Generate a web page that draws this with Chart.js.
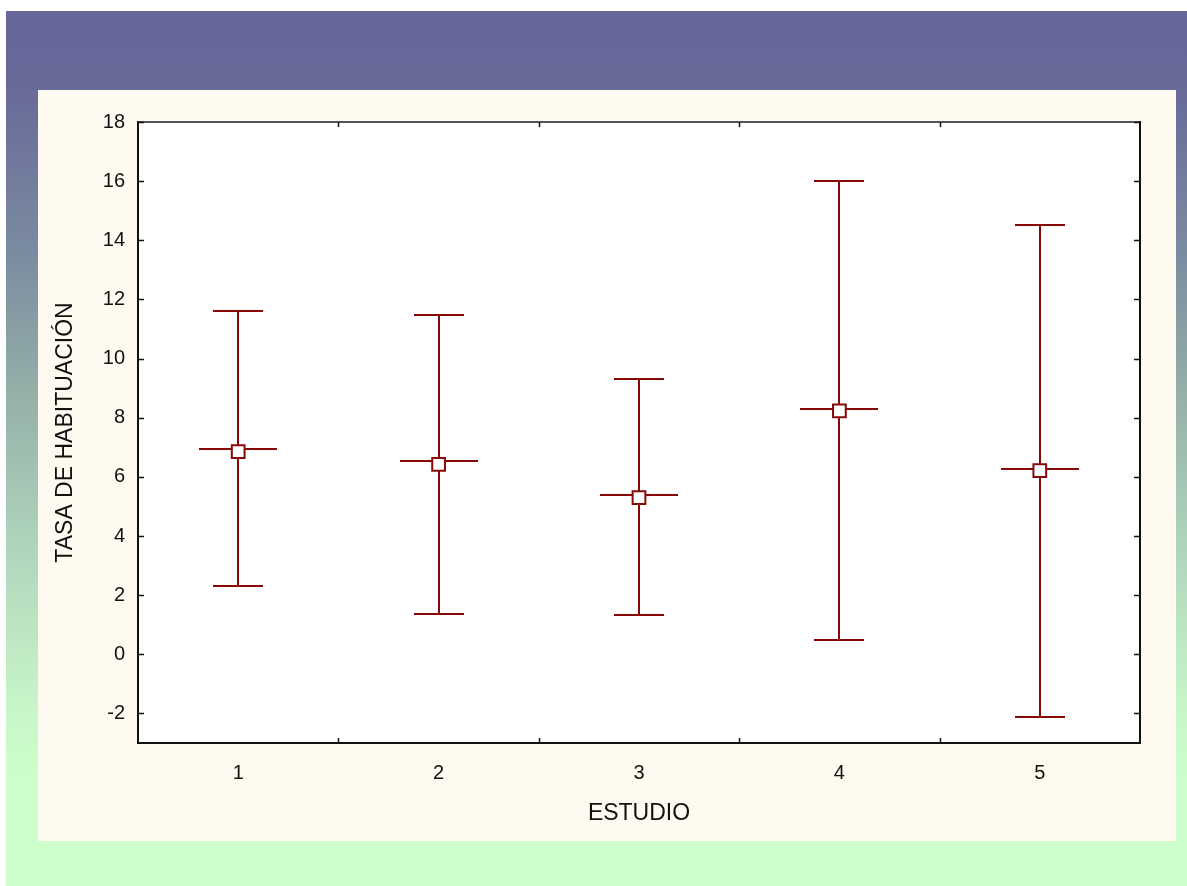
<!DOCTYPE html>
<html>
<head>
<meta charset="utf-8">
<script src="https://cdn.jsdelivr.net/npm/chart.js@4/dist/chart.umd.min.js"></script>
<style>
	html, body { margin: 0; padding: 0; background: #ffffff; }
	#bg {
		position: absolute; left: 6px; top: 11px; width: 1181px; height: 875px;
		background: linear-gradient(to bottom, #666699 0%, #686a99 9%, #7b8ca0 28%, #94aea8 43%, #b2d8bd 63%, #c8f6c9 80%, #ccffcc 88%, #ccffcc 100%);
	}
	#panel {
		position: absolute; left: 38px; top: 90px; width: 1138px; height: 751px;
		background: #fffaef;
	}
	#panel canvas { display: block; }
</style>
</head>
<body>
<div id="bg"></div>
<div id="panel"><canvas id="chart" width="1138" height="751"></canvas></div>
<script>
// studies on the x axis
const estudios = [ 1, 2, 3, 4, 5 ];
// mean (square marker)
const medias = [ 6.85, 6.42, 5.30, 8.23, 6.21 ];
// horizontal line through the marker
const centros = [ 6.93, 6.52, 5.40, 8.31, 6.28 ];
// whisker ends
const superiores = [ 11.62, 11.49, 9.32, 16.02, 14.53 ];
const inferiores = [ 2.30, 1.35, 1.32, 0.47, -2.13 ];
// y tick labels
const yTicks = [ -2, 0, 2, 4, 6, 8, 10, 12, 14, 16, 18 ];

const rojo = '#880808';
const fuente = '"Liberation Sans", Arial, sans-serif';

// white plot area, whiskers, caps and center line under the markers, frame on top
const whiskerPlugin = {
	id: 'whiskers',
	beforeDatasetsDraw( chart ) {
		const { ctx, chartArea: a, scales: { x, y } } = chart;
		ctx.save();
		ctx.fillStyle = '#ffffff';
		ctx.fillRect( a.left, a.top, a.right - a.left, a.bottom - a.top );
		ctx.strokeStyle = rojo;
		ctx.lineWidth = 2;
		estudios.forEach( ( e, i ) => {
			const px = Math.round( x.getPixelForValue( e ) );
			const yHi = Math.round( y.getPixelForValue( superiores[ i ] ) );
			const yLo = Math.round( y.getPixelForValue( inferiores[ i ] ) );
			const yC = Math.round( y.getPixelForValue( centros[ i ] ) );
			ctx.beginPath();
			ctx.moveTo( px, yHi );
			ctx.lineTo( px, yLo );
			ctx.moveTo( px - 25, yHi );
			ctx.lineTo( px + 25, yHi );
			ctx.moveTo( px - 25, yLo );
			ctx.lineTo( px + 25, yLo );
			ctx.moveTo( px - 39, yC );
			ctx.lineTo( px + 39, yC );
			ctx.stroke();
		} );
		ctx.restore();
	},
	afterDraw( chart ) {
		const { ctx, chartArea: a, scales: { x, y } } = chart;
		ctx.save();
		ctx.strokeStyle = '#111111';
		ctx.lineWidth = 2;
		// frame
		ctx.strokeRect( a.left, a.top, a.right - a.left, a.bottom - a.top );
		ctx.strokeStyle = '#555555';
		ctx.beginPath();
		ctx.moveTo( a.left + 1, a.top );
		ctx.lineTo( a.right - 1, a.top );
		ctx.stroke();
		// inward ticks
		ctx.strokeStyle = '#111111';
		ctx.lineWidth = 1.5;
		ctx.beginPath();
		yTicks.forEach( v => {
			const py = Math.round( y.getPixelForValue( v ) ) + 0.5;
			ctx.moveTo( a.left, py );
			ctx.lineTo( a.left + 6, py );
			ctx.moveTo( a.right, py );
			ctx.lineTo( a.right - 6, py );
		} );
		for ( let i = 0; i < estudios.length - 1; i++ ) {
			const px = Math.round( x.getPixelForValue( estudios[ i ] + 0.5 ) ) + 0.5;
			ctx.moveTo( px, a.bottom );
			ctx.lineTo( px, a.bottom - 5 );
			ctx.moveTo( px, a.top );
			ctx.lineTo( px, a.top + 5 );
		}
		ctx.stroke();
		ctx.restore();
	},
};

new Chart( document.getElementById( 'chart' ), {
	type: 'scatter',
	data: {
		datasets: [
			{
				data: estudios.map( ( e, i ) => ( { x: e, y: medias[ i ] } ) ),
				pointStyle: 'rect',
				pointRadius: 9,
				pointBackgroundColor: '#ffffff',
				pointBorderColor: rojo,
				pointBorderWidth: 2,
				pointHoverRadius: 9,
			},
		],
	},
	options: {
		responsive: false,
		animation: false,
		layout: { padding: { left: 0, top: 32, right: 36, bottom: 0 } },
		plugins: {
			legend: { display: false },
			tooltip: { enabled: false },
		},
		scales: {
			x: {
				type: 'linear',
				min: 0.5,
				max: 5.5,
				afterBuildTicks: axis => {
					axis.ticks = estudios.map( v => ( { value: v } ) );
				},
				grid: { display: false },
				border: { display: false },
				ticks: {
					color: '#111111',
					font: { family: fuente, size: 20 },
					padding: 10,
					maxRotation: 0,
				},
				title: {
					display: true,
					text: 'ESTUDIO',
					color: '#111111',
					font: { family: fuente, size: 23 },
					padding: { top: 8, bottom: 14 },
				},
				afterFit: axis => {
					axis.height = 98;
				},
			},
			y: {
				min: -3,
				max: 18,
				afterBuildTicks: axis => {
					axis.ticks = yTicks.map( v => ( { value: v } ) );
				},
				grid: { display: false },
				border: { display: false },
				ticks: {
					color: '#111111',
					font: { family: fuente, size: 20 },
					padding: 5,
				},
				title: {
					display: true,
					text: 'TASA DE HABITUACIÓN',
					color: '#111111',
					font: { family: fuente, size: 23 },
					padding: { top: 14, bottom: 10 },
				},
				afterFit: axis => {
					axis.width = 100;
				},
			},
		},
	},
	plugins: [ whiskerPlugin ],
} );
</script>
</body>
</html>
